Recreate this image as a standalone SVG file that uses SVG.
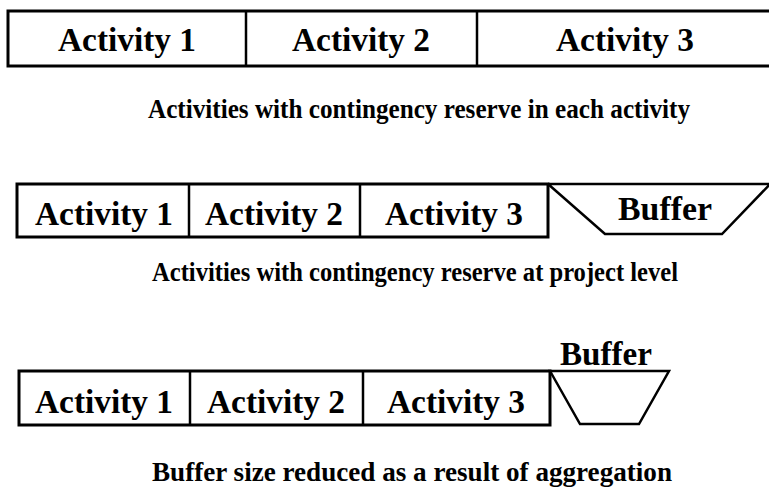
<svg xmlns="http://www.w3.org/2000/svg" width="769" height="490" viewBox="0 0 769 490">
<style>
.box{fill:#fff;stroke:#000;stroke-width:3}
.div{stroke:#000;stroke-width:2.5;fill:none}
.buf{fill:#fff;stroke:#000;stroke-width:2.5;stroke-linejoin:miter}
.lbl{font-family:"Liberation Serif","Times New Roman",serif;font-weight:bold;font-size:34px;text-anchor:middle;fill:#000}
.cap{font-family:"Liberation Serif","Times New Roman",serif;font-weight:bold;font-size:27px;text-anchor:middle;fill:#000}
</style>
<rect width="769" height="490" fill="#fff"/>
<g id="row1">
<rect class="box" x="8" y="11" width="770" height="55"/>
<g id="r1a1"><text class="lbl" x="127" y="51" textLength="138" lengthAdjust="spacingAndGlyphs">Activity 1</text></g>
<line class="div" x1="246" y1="11" x2="246" y2="66"/>
<g id="r1a2"><text class="lbl" x="361" y="51" textLength="138" lengthAdjust="spacingAndGlyphs">Activity 2</text></g>
<line class="div" x1="477" y1="11" x2="477" y2="66"/>
<g id="r1a3"><text class="lbl" x="625" y="51" textLength="138" lengthAdjust="spacingAndGlyphs">Activity 3</text></g>
</g>
<g id="caption1"><text class="cap" x="419" y="118" textLength="542" lengthAdjust="spacingAndGlyphs">Activities with contingency reserve in each activity</text></g>
<g id="row2">
<g id="r2buffer"><path class="buf" d="M548,184 L605,234 L722,234 L774,180 M548,184 L775,184"/><text class="lbl" x="665" y="220" textLength="94" lengthAdjust="spacingAndGlyphs">Buffer</text></g>
<rect class="box" x="17" y="184" width="531" height="53"/>
<g id="r2a1"><text class="lbl" x="104" y="225" textLength="138" lengthAdjust="spacingAndGlyphs">Activity 1</text></g>
<line class="div" x1="189" y1="184" x2="189" y2="237"/>
<g id="r2a2"><text class="lbl" x="274" y="225" textLength="138" lengthAdjust="spacingAndGlyphs">Activity 2</text></g>
<line class="div" x1="360" y1="184" x2="360" y2="237"/>
<g id="r2a3"><text class="lbl" x="454" y="225" textLength="138" lengthAdjust="spacingAndGlyphs">Activity 3</text></g>
</g>
<g id="caption2"><text class="cap" x="415" y="281" textLength="526" lengthAdjust="spacingAndGlyphs">Activities with contingency reserve at project level</text></g>
<g id="row3">
<g id="r3buffer"><path class="buf" d="M550,371 L580,424 L639,424 L669,371 Z"/><text class="lbl" x="606" y="365" textLength="92" lengthAdjust="spacingAndGlyphs">Buffer</text></g>
<rect class="box" x="19" y="371" width="531" height="54"/>
<g id="r3a1"><text class="lbl" x="104" y="413" textLength="138" lengthAdjust="spacingAndGlyphs">Activity 1</text></g>
<line class="div" x1="190" y1="371" x2="190" y2="425"/>
<g id="r3a2"><text class="lbl" x="276" y="413" textLength="138" lengthAdjust="spacingAndGlyphs">Activity 2</text></g>
<line class="div" x1="363" y1="371" x2="363" y2="425"/>
<g id="r3a3"><text class="lbl" x="456" y="413" textLength="138" lengthAdjust="spacingAndGlyphs">Activity 3</text></g>
</g>
<g id="caption3"><text class="cap" x="412" y="481" textLength="520" lengthAdjust="spacingAndGlyphs">Buffer size reduced as a result of aggregation</text></g>
</svg>
